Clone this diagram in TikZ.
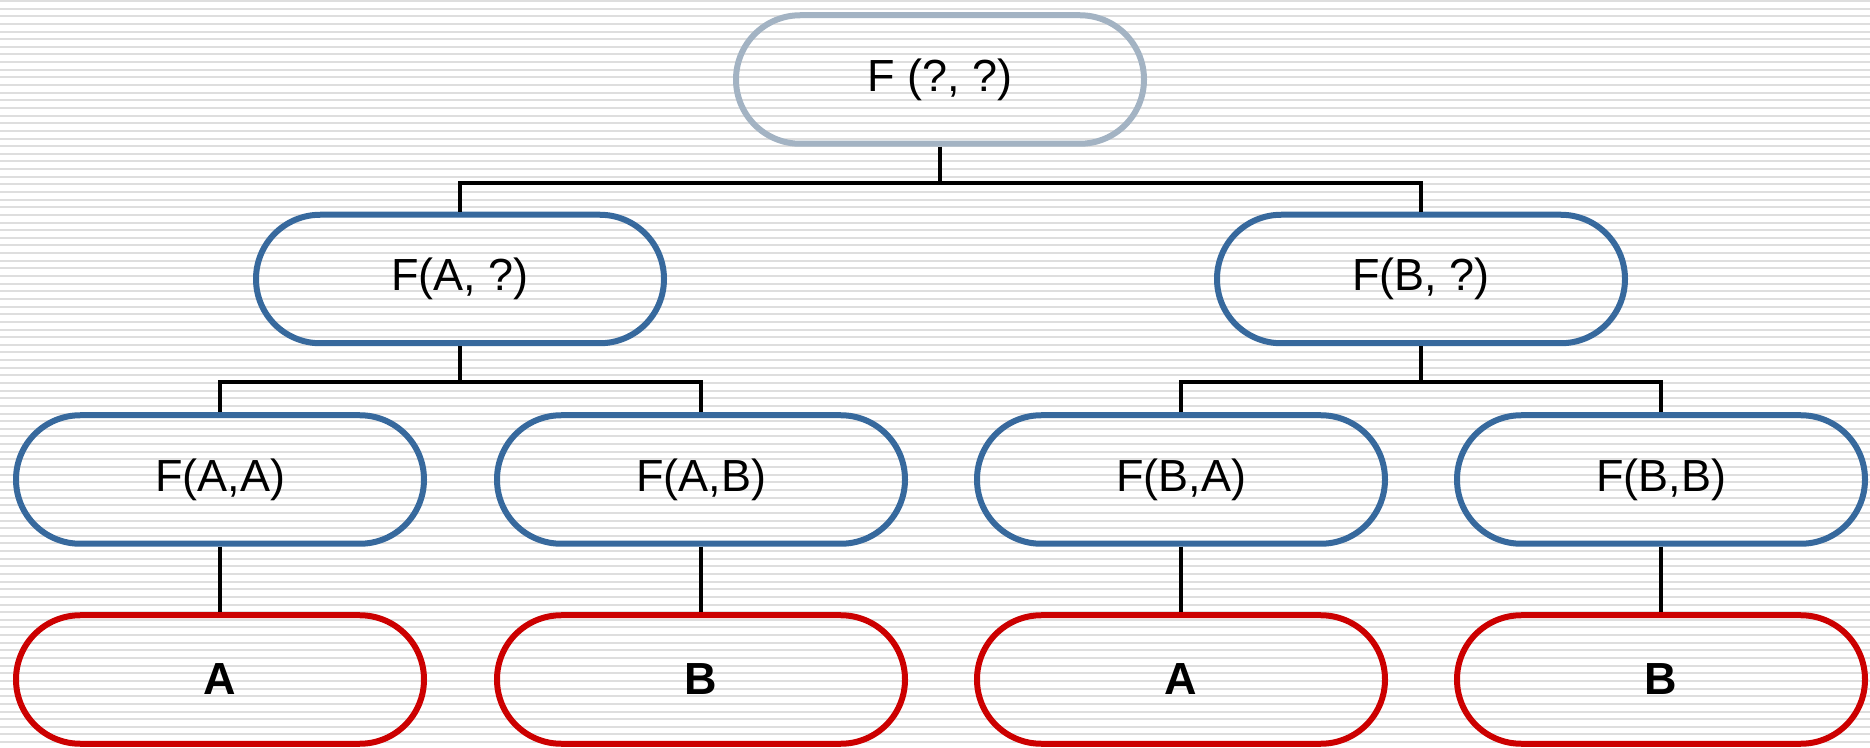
\documentclass[tikz,border=0pt]{standalone}
\usepackage{fontspec}
\setmainfont{Liberation Sans}
\definecolor{rootline}{HTML}{A3B3C3}
\definecolor{midline}{HTML}{37699D}
\definecolor{leafline}{HTML}{CC0000}
\definecolor{stripegray}{HTML}{DEDEDE}
\tikzset{
  pill/.style={draw, rectangle, rounded corners=32.1pt, line width=3pt,
    minimum width=204pt, minimum height=64.25pt, inner sep=0pt,
    font=\fontsize{22.5}{27}\selectfont},
  rootpill/.style={pill, draw=rootline},
  midpill/.style={pill, draw=midline},
  leafpill/.style={pill, draw=leafline, font=\fontsize{22.5}{27}\selectfont\bfseries},
  link/.style={draw=black, line width=2.25pt},
  stripe/.style={draw=stripegray, line width=1pt}
}
\begin{document}
\begin{tikzpicture}[x=0.5pt, y=-0.5pt]
  \useasboundingbox (0,0) rectangle (1870,748);
  % ruled background
  \fill[white] (0,0) rectangle (1870,748);
  \foreach \k in {0,...,98}
    \draw[stripe] (0,{1+7.64*\k}) -- (1870,{1+7.64*\k});

  % tree nodes
  \node[rootpill] (r) at (940,79.5) {F (?, ?)};
  \node[midpill] (a) at (460,279) {F(A, ?)};
  \node[midpill] (b) at (1421,279) {F(B, ?)};
  \node[midpill] (aa) at (220,479.5) {F(A,A)};
  \node[midpill] (ab) at (701,479.5) {F(A,B)};
  \node[midpill] (ba) at (1181,479.5) {F(B,A)};
  \node[midpill] (bb) at (1661,479.5) {F(B,B)};
  \node[leafpill] (la) at (220,679.5) {A};
  \node[leafpill] (lb) at (701,679.5) {B};
  \node[leafpill] (lc) at (1181,679.5) {A};
  \node[leafpill] (ld) at (1661,679.5) {B};

  % bracket joints
  \coordinate (j0) at (940,183);
  \coordinate (j1) at (460,382);
  \coordinate (j2) at (1421,382);

  % connectors
  \draw[link] (r.south) -- (j0);
  \draw[link] (a.north) |- (j0) -| (b.north);
  \draw[link] (a.south) -- (j1);
  \draw[link] (aa.north) |- (j1) -| (ab.north);
  \draw[link] (b.south) -- (j2);
  \draw[link] (ba.north) |- (j2) -| (bb.north);
  \draw[link] (aa.south) -- (la.north);
  \draw[link] (ab.south) -- (lb.north);
  \draw[link] (ba.south) -- (lc.north);
  \draw[link] (bb.south) -- (ld.north);
\end{tikzpicture}
\end{document}
